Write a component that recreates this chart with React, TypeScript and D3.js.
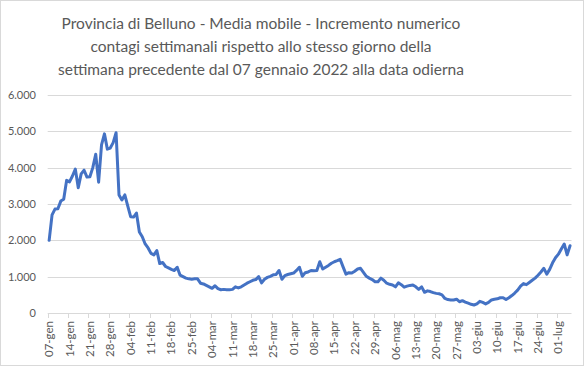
import React, { useEffect, useRef } from 'react';
import * as d3 from 'd3';

// Media mobile giornaliera dal 07-gen-2022 (un valore al giorno)
const values: number[] = [
  2000, 2700, 2860, 2870, 3080, 3130, 3650, 3610, 3770, 3960,
  3450, 3830, 3930, 3740, 3750, 4000, 4370, 3600, 4630, 4930,
  4510, 4540, 4690, 4960, 3250, 3110, 3250, 2950, 2650, 2640,
  2750, 2230, 2100, 1900, 1790, 1640, 1600, 1720, 1360, 1390,
  1280, 1240, 1200, 1170, 1260, 1040, 1000, 960, 940, 930,
  940, 940, 820, 800, 760, 720, 680, 750, 670, 640,
  650, 640, 640, 650, 720, 690, 720, 770, 820, 860,
  900, 920, 1000, 830, 930, 980, 1010, 1050, 1060, 1170,
  930, 1030, 1060, 1080, 1100, 1170, 1260, 1010, 1110, 1130,
  1170, 1160, 1170, 1410, 1210, 1260, 1310, 1370, 1410, 1440,
  1480, 1270, 1070, 1110, 1100, 1150, 1210, 1230, 1120, 1010,
  960, 920, 860, 860, 960, 900, 820, 790, 770, 720,
  830, 780, 710, 740, 760, 770, 720, 650, 720, 570,
  610, 590, 560, 540, 530, 500, 400, 370, 360, 360,
  380, 310, 340, 300, 270, 240, 220, 250, 320, 290,
  250, 290, 360, 380, 390, 420, 420, 370, 420, 480,
  550, 630, 740, 810, 780, 840, 900, 960, 1040, 1130,
  1230, 1070, 1200, 1380, 1520, 1620, 1760, 1900, 1600, 1850,
];

const tickLabels: string[] = [
  '07-gen', '14-gen', '21-gen', '28-gen', '04-feb', '11-feb', '18-feb', '25-feb',
  '04-mar', '11-mar', '18-mar', '25-mar', '01-apr', '08-apr', '15-apr', '22-apr',
  '29-apr', '06-mag', '13-mag', '20-mag', '27-mag', '03-giu', '10-giu', '17-giu',
  '24-giu', '01-lug',
];

const yTicks: number[] = [0, 1000, 2000, 3000, 4000, 5000, 6000];

const titleLines: string[] = [
  'Provincia di Belluno - Media mobile - Incremento numerico',
  'contagi settimanali rispetto allo stesso giorno della',
  'settimana precedente dal 07 gennaio 2022 alla data odierna',
];

const App: React.FC = () => {
  const svgRef = useRef<SVGSVGElement>(null);

  useEffect(() => {
    if (!svgRef.current) return;
    const width = 586;
    const height = 367;
    const left = 47.7;
    const right = 571.5;
    const top = 95;
    const bottom = 313;
    const textColor = '#595959';
    const font = 'Lato, "Open Sans", sans-serif';

    const svg = d3.select(svgRef.current);
    svg.selectAll('*').remove();
    svg.attr('width', width).attr('height', height);

    svg.append('rect')
      .attr('x', 0.5).attr('y', 0.5)
      .attr('width', 583).attr('height', 365)
      .attr('fill', 'white')
      .attr('stroke', '#d9d9d9');

    // Title
    svg.append('g')
      .selectAll('text')
      .data(titleLines)
      .join('text')
      .attr('x', 261)
      .attr('y', (_, i) => 28.5 + i * 23)
      .attr('text-anchor', 'middle')
      .attr('fill', textColor)
      .attr('font-family', font)
      .attr('font-size', 15.5)
      .text(d => d);

    const n = values.length;
    const x = d3.scaleLinear().domain([0, n]).range([left, right]);
    const y = d3.scaleLinear().domain([0, 6000]).range([bottom, top]);

    // Gridlines + y labels
    const yg = svg.append('g');
    yg.selectAll('line')
      .data(yTicks)
      .join('line')
      .attr('x1', left).attr('x2', right)
      .attr('y1', d => Math.round(y(d)) + 0.5)
      .attr('y2', d => Math.round(y(d)) + 0.5)
      .attr('stroke', '#d9d9d9');
    yg.selectAll('text')
      .data(yTicks)
      .join('text')
      .attr('x', 36)
      .attr('y', d => y(d))
      .attr('dy', '0.35em')
      .attr('text-anchor', 'end')
      .attr('fill', textColor)
      .attr('font-family', font)
      .attr('font-size', 11)
      .text(d => d3.format(',')(d).replace(/,/g, '.'));

    // x ticks and labels
    const xg = svg.append('g');
    const tickDays = tickLabels.map((_, i) => i * 7);
    xg.selectAll('line')
      .data(tickDays)
      .join('line')
      .attr('x1', d => Math.round(x(d)) + 0.5)
      .attr('x2', d => Math.round(x(d)) + 0.5)
      .attr('y1', bottom).attr('y2', bottom + 5)
      .attr('stroke', '#d9d9d9');
    xg.selectAll('text')
      .data(tickLabels)
      .join('text')
      .attr('transform', (_, i) => `translate(${x(tickDays[i]) + 1.5},${bottom + 8}) rotate(-90)`)
      .attr('dy', '0.35em')
      .attr('text-anchor', 'end')
      .attr('fill', textColor)
      .attr('font-family', font)
      .attr('font-size', 11.5)
      .text(d => d);

    // Line
    const line = d3.line<number>()
      .x((_, i) => x(i + 0.5))
      .y(d => y(d));
    svg.append('path')
      .datum(values)
      .attr('d', line)
      .attr('fill', 'none')
      .attr('stroke', '#4472c4')
      .attr('stroke-width', 3)
      .attr('stroke-linejoin', 'round')
      .attr('stroke-linecap', 'round');
  }, []);

  return (
    <div style={{ position: 'absolute', left: 0, top: 0 }}>
      <svg ref={svgRef} style={{ display: 'block' }}></svg>
    </div>
  );
};

export default App;
